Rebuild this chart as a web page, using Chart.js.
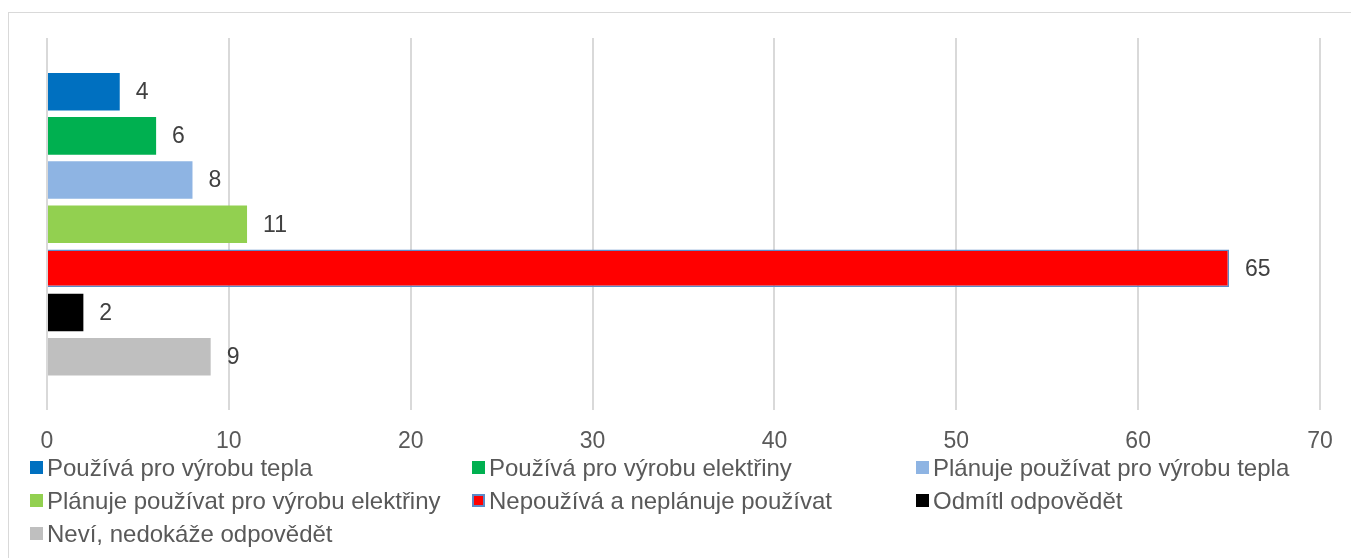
<!DOCTYPE html>
<html>
<head>
<meta charset="utf-8">
<script src="https://cdn.jsdelivr.net/npm/chart.js@4"></script>
<style>
  body { margin: 0; background: #fff; font-family: "Liberation Sans", Arial, sans-serif; overflow: hidden; }
  .frame { position: absolute; left: 8px; top: 12px; width: 1400px; height: 600px; border: 1px solid #d9d9d9; }
  .chart-box { position: absolute; left: 0; top: 0; width: 1351px; height: 472px; }
  .legend { position: absolute; left: 30px; top: 454px; display: grid; grid-template-columns: 442px 444px 420px; row-gap: 6px; }
  .legend-item { display: flex; align-items: center; font-size: 24px; color: #595959; line-height: 27px; white-space: nowrap; }
  .legend-item .sw { width: 13px; height: 13px; margin-right: 4px; box-sizing: border-box; flex: none; }
</style>
</head>
<body>
<div class="frame"></div>
<div class="chart-box"><canvas id="chart"></canvas></div>
<div class="legend" id="legend"></div>
<script>
// kategorie a hodnoty (v %)
const categories = [''];
const seriesNames = [
    'Používá pro výrobu tepla',
    'Používá pro výrobu elektřiny',
    'Plánuje používat pro výrobu tepla',
    'Plánuje používat pro výrobu elektřiny',
    'Nepoužívá a neplánuje používat',
    'Odmítl odpovědět',
    'Neví, nedokáže odpovědět'
];
const seriesValues = [4, 6, 8, 11, 65, 2, 9];
const seriesColors = ['#0070c0', '#00b050', '#8eb4e3', '#92d050', '#ff0000', '#000000', '#bfbfbf'];
const seriesBorders = [null, null, null, null, '#5b8ac8', null, null];
const xTicks = [0, 10, 20, 30, 40, 50, 60, 70];

// popisky hodnot na konci sloupců
const valueLabels = {
    id: 'valueLabels',
    afterDatasetsDraw(chart) {
        const ctx = chart.ctx;
        ctx.save();
        ctx.font = '23px "Liberation Sans", Arial, sans-serif';
        ctx.fillStyle = '#404040';
        ctx.textAlign = 'left';
        ctx.textBaseline = 'middle';
        chart.data.datasets.forEach((ds, i) => {
            const meta = chart.getDatasetMeta(i);
            meta.data.forEach((el, j) => {
                ctx.fillText(String(ds.data[j]), el.x + 16, el.y + 1);
            });
        });
        ctx.restore();
    }
};

function buildDatasets() {
    return seriesNames.map((name, i) => ({
        label: name,
        data: [seriesValues[i]],
        backgroundColor: seriesColors[i],
        borderColor: seriesBorders[i] || seriesColors[i],
        borderWidth: seriesBorders[i] ? 1.5 : 0,
        barPercentage: 0.85,
        categoryPercentage: 0.83
    }));
}

function buildLegend() {
    const legend = document.getElementById('legend');
    seriesNames.forEach((name, i) => {
        const item = document.createElement('div');
        item.className = 'legend-item';
        const sw = document.createElement('span');
        sw.className = 'sw';
        sw.style.background = seriesColors[i];
        if (seriesBorders[i]) sw.style.border = '2px solid ' + seriesBorders[i];
        const txt = document.createElement('span');
        txt.textContent = name;
        item.appendChild(sw);
        item.appendChild(txt);
        legend.appendChild(item);
    });
}

document.addEventListener('DOMContentLoaded', function() {
    buildLegend();
    new Chart(document.getElementById('chart'), {
        type: 'bar',
        data: { labels: categories, datasets: buildDatasets() },
        plugins: [valueLabels],
        options: {
            indexAxis: 'y',
            responsive: true,
            maintainAspectRatio: false,
            animation: false,
            layout: { padding: { left: 47, right: 31, top: 38, bottom: 0 } },
            plugins: {
                legend: { display: false },
                tooltip: { enabled: false }
            },
            scales: {
                x: {
                    min: 0,
                    max: 70,
                    afterBuildTicks: scale => { scale.ticks = xTicks.map(v => ({ value: v })); },
                    grid: { color: '#d9d9d9', lineWidth: 2, drawTicks: false },
                    border: { display: false },
                    ticks: {
                        padding: 17,
                        color: '#595959',
                        font: { size: 23, family: '"Liberation Sans", Arial, sans-serif' }
                    }
                },
                y: {
                    display: false
                }
            }
        }
    });
});
</script>
</body>
</html>
